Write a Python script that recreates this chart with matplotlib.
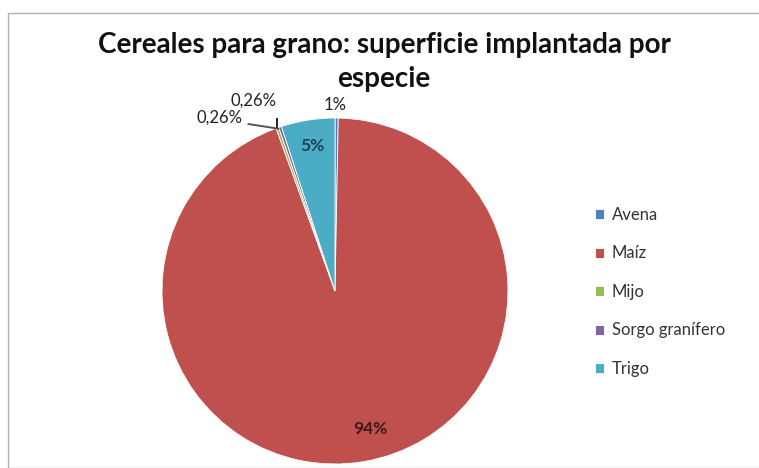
import matplotlib.pyplot as plt
import numpy as np

especies = ["Avena", "Maíz", "Mijo", "Sorgo granífero", "Trigo"]
superficie = [0.3, 94.0, 0.26, 0.26, 5.0]
etiquetas = ["1%", "94%", "0,26%", "0,26%", "5%"]
colores = ["#4F81BD", "#C0504D", "#9BBB59", "#8064A2", "#4BACC6"]

plt.rcParams["font.family"] = ["Lato", "DejaVu Sans"]

fig = plt.figure(figsize=(7.59, 4.68), dpi=100)

# chart border like excel
fig.patches.append(plt.Rectangle((8/759, 0.0), 760/759, 1 - 13/468, transform=fig.transFigure,
                                 fill=False, edgecolor="#b0b0b0", linewidth=1.0))

fig.text(384/759, 1 - 45/468, "Cereales para grano: superficie implantada por",
         ha="center", va="center", fontsize=20, fontweight="bold", color="#111111")
fig.text(384/759, 1 - 79/468, "especie",
         ha="center", va="center", fontsize=20, fontweight="bold", color="#111111")

cx, cy, r = 335, 291, 173
ax = fig.add_axes([(cx - r)/759, (468 - cy - r)/468, 2*r/759, 2*r/468])
wedges, _ = ax.pie(superficie, colors=colores, startangle=90, counterclock=False,
                   wedgeprops=dict(edgecolor="white", linewidth=0.6))
ax.set_xlim(-1, 1)
ax.set_ylim(-1, 1)
ax.set_aspect("equal")

def mid(w, rr):
    a = np.deg2rad((w.theta1 + w.theta2) / 2)
    return rr*np.cos(a), rr*np.sin(a)

# labels inside
x, y = mid(wedges[1], 0.82)
ax.text(x + 0.07, y + 0.01, etiquetas[1], ha="center", va="center", fontsize=12.5,
        fontweight="bold", color="#3a1a1a")
x, y = mid(wedges[4], 0.85)
ax.text(x, y, etiquetas[4], ha="center", va="center", fontsize=12.5,
        fontweight="bold", color="#1f3f5a")

# labels outside
ax.text(0.0, 1.075, etiquetas[0], ha="center", va="center", fontsize=12, color="#222222")

ex, ey = mid(wedges[2], 1.0)
ax.text(-0.47, 1.10, etiquetas[2], ha="center", va="center", fontsize=12, color="#222222")
ax.plot([ex, ex], [ey, 1.05], color="black", linewidth=1.2)

ex, ey = mid(wedges[3], 1.0)
ax.text(-0.665, 1.0, etiquetas[3], ha="center", va="center", fontsize=12, color="#222222")
ax.plot([-0.50, ex - 0.01], [0.965, ey - 0.01], color="#555555", linewidth=1.4)

for w in wedges:
    w.set_clip_on(False)

fig.legend(wedges, especies, loc="center left", bbox_to_anchor=(580/759, 1 - 292/468),
           frameon=False, fontsize=12, handlelength=0.55, handleheight=0.55,
           handletextpad=0.45, labelspacing=1.35, labelcolor="#333333")

fig.savefig("out.png", dpi=100)
